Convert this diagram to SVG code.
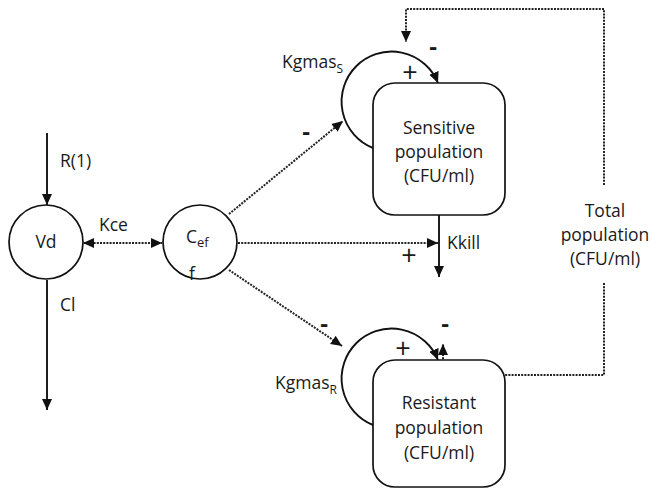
<svg xmlns="http://www.w3.org/2000/svg" width="652" height="491" viewBox="0 0 652 491">
<style>
  text { font-family: "Open Sans", "Liberation Sans", sans-serif; font-size: 17.5px; fill: #1a1a1a; }
  .mid { text-anchor: middle; }
  .node { fill: #fff; stroke: #111; stroke-width: 1.7; }
  .solid { fill: none; stroke: #111; stroke-width: 1.9; }
  .dot { fill: none; stroke: #222; stroke-width: 2; stroke-dasharray: 2 1.2; }
  .minus { font-size: 24px; font-weight: bold; }
  .plus { font-size: 27px; }
</style>
<defs>
  <marker id="ah" markerUnits="userSpaceOnUse" markerWidth="12" markerHeight="12" refX="11" refY="5" orient="auto" viewBox="0 0 12 10">
    <path d="M0,0 L11,5 L0,10 z" fill="#111"/>
  </marker>
  <marker id="ahs" markerUnits="userSpaceOnUse" markerWidth="12" markerHeight="12" refX="1" refY="5" orient="auto" viewBox="0 0 12 10">
    <path d="M11,0 L0,5 L11,10 z" fill="#111"/>
  </marker>
</defs>

<g id="connectors">
  <path id="r1" class="solid" d="M47,133 V205" marker-end="url(#ah)"/>
  <path id="cl" class="solid" d="M47,280 V410" marker-end="url(#ah)"/>
  <path id="kce" class="dot" d="M84,243 H162" marker-start="url(#ahs)" marker-end="url(#ah)"/>
  <path id="cef-s" class="dot" d="M229,214 L343,121" marker-end="url(#ah)"/>
  <path id="cef-kill" class="dot" d="M238,243 H438" marker-end="url(#ah)"/>
  <path id="cef-r" class="dot" d="M229,270 L342,346" marker-end="url(#ah)"/>
  <path id="kgmas-s" class="solid" d="M373,148 A50,50 0 1 1 438,83" marker-end="url(#ah)"/>
  <path id="kgmas-r" class="solid" d="M373,425 A50,50 0 1 1 438,360" marker-end="url(#ah)"/>
  <path id="kkill" class="solid" d="M439,215 V277" marker-end="url(#ah)"/>
  <path id="total-s" class="dot" d="M604,185 V9 H406 V42" marker-end="url(#ah)"/>
  <path id="total-r" class="dot" d="M604,283 V375 H443 V344" marker-end="url(#ah)"/>
</g>

<g id="vd">
  <circle class="node" cx="46" cy="242" r="37"/>
  <text class="mid" x="46" y="248">Vd</text>
</g>

<g id="cef">
  <circle class="node" cx="200" cy="242" r="37"/>
  <text x="186" y="243" font-size="18">C<tspan font-size="13" dy="4">ef</tspan></text>
  <text x="189" y="280" font-size="12">f</text>
</g>

<g id="sensitive">
  <rect class="node" x="373" y="83" width="132" height="132" rx="22"/>
  <text class="mid" x="439" y="134">Sensitive</text>
  <text class="mid" x="439" y="158">population</text>
  <text class="mid" x="439" y="182">(CFU/ml)</text>
</g>

<g id="resistant">
  <rect class="node" x="373" y="360" width="132" height="127" rx="22"/>
  <text class="mid" x="439" y="409">Resistant</text>
  <text class="mid" x="439" y="434">population</text>
  <text class="mid" x="439" y="459">(CFU/ml)</text>
</g>

<g id="labels">
  <text x="60" y="167">R(1)</text>
  <text x="99" y="231">Kce</text>
  <text x="60" y="311">Cl</text>
  <text x="282" y="68">Kgmas<tspan font-size="12" dy="5">S</tspan></text>
  <text x="275" y="389">Kgmas<tspan font-size="12" dy="5">R</tspan></text>
  <text x="447" y="249">Kkill</text>
  <text class="mid" x="605" y="217">Total</text>
  <text class="mid" x="605" y="241">population</text>
  <text class="mid" x="605" y="265">(CFU/ml)</text>
  <text class="mid plus" x="410" y="82">+</text>
  <text class="mid minus" x="433" y="55">-</text>
  <text class="mid minus" x="306" y="140">-</text>
  <text class="mid plus" x="409" y="265">+</text>
  <text class="mid minus" x="324" y="332">-</text>
  <text class="mid plus" x="403" y="358">+</text>
  <text class="mid minus" x="445" y="332">-</text>
</g>
</svg>
